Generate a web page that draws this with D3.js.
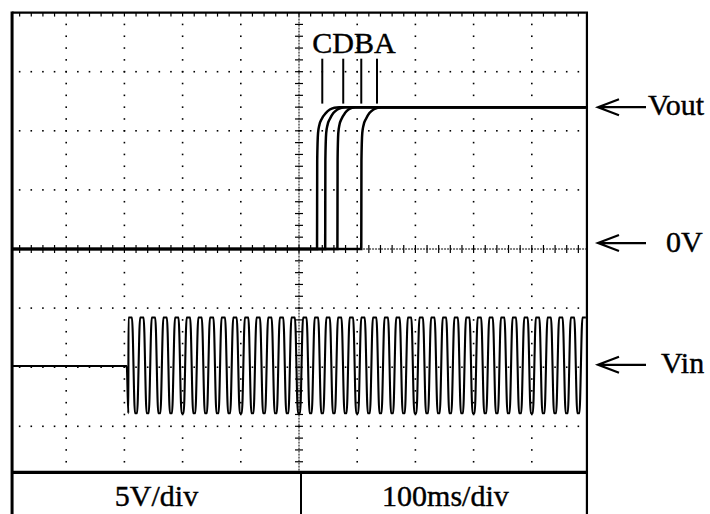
<!DOCTYPE html>
<html>
<head>
<meta charset="utf-8">
<script src="https://cdn.jsdelivr.net/npm/d3@7"></script>
<style>
  body { margin: 0; background: #fff; }
  svg { display: block; }
  text { font-family: "Liberation Serif", "Times New Roman", serif; fill: #000; stroke: #000; stroke-width: 0.4; }
</style>
</head>
<body>
<script>
// Vout traces, [time ms, volts] (5V/div, 100ms/div)
const voutC = [[7,0],[531,0],[531.3,7.5],[532.7,9.8],[535,10.5],[539,11.0],[546,11.5],[553,11.8],[561,11.95],[569,12],[993,12]];
const voutD = [[7,0],[545,0],[545.3,7.5],[546.7,9.8],[549,10.5],[553,11.0],[559,11.5],[566,11.8],[573,11.95],[580,12],[993,12]];
const voutB = [[7,0],[566,0],[566.3,7.5],[567.5,9.8],[569.5,10.5],[573,11.0],[579,11.5],[585,11.8],[591,11.95],[597,12],[993,12]];
const voutA = [[7,0],[607,0],[607.3,7.5],[608.7,9.8],[611,10.5],[615,11.0],[621,11.5],[628,11.8],[635,11.95],[642,12],[993,12]];
const traceLetters = "CDBA";
const markerTimes = [540, 576, 607, 634];

// Vin (display volts), extrema of the mains waveform
const vinRest = -9.9, vinHigh = -5.8, vinLow = -13.9;
const vinStart = 204;
const vinTopHoldMs = 3, vinBottomHoldMs = 1.8;   // flat caps seen on the trace
const vinPeakTimes = [210,230,250,270,290,310,330,350,370,390,410,430,450,470,490,510,530,550,570,590,
                      610,630,650,670,690,710,730,750,770,790,810,830,850,870,890,910,930,950,970,990];
const vinTroughTimes = [205,220,240,260,280,300,320,340,360,380,400,420,440,460,480,500,520,540,560,580,
                        600,620,640,660,680,700,720,740,760,780,800,820,840,860,880,900,920,940,960,980];

const levelLabels = ["Vout", "0V", "Vin"];
const levelVolts = [12, 0.5, -9.8];
const scaleLabels = ["5V/div", "100ms/div"];

const W = 710, H = 514;
const svg = d3.select("body").append("svg").attr("width", W).attr("height", H);

const x = d3.scaleLinear().domain([0, 1000]).range([8, 590]);
const y = d3.scaleLinear().domain([20, -20]).range([12.6, 485.4]);

const t0 = 7, t1 = 993, vTop = 20, vBot = -18.9;

svg.append("clipPath").attr("id", "screen")
  .append("rect")
  .attr("x", x(t0)).attr("y", y(vTop))
  .attr("width", x(t1) - x(t0)).attr("height", y(vBot) - y(vTop));

// graticule dots
const grid = svg.append("g");
const majorT = d3.range(100, 1000, 100).filter(d => d !== 500);
const majorV = [15, 10, 5, -5, -10, -15];
const minorT = d3.range(20, 993, 20);
const minorV = d3.range(-18, 20, 1);

majorT.forEach(t => {
  grid.selectAll(null).data(minorV).enter().append("rect")
    .attr("x", x(t) - 0.8).attr("y", d => y(d) - 0.8)
    .attr("width", 1.6).attr("height", 1.6).attr("fill", "#000");
});
majorV.forEach(v => {
  grid.selectAll(null).data(minorT).enter().append("rect")
    .attr("x", d => x(d) - 0.8).attr("y", y(v) - 0.8)
    .attr("width", 1.6).attr("height", 1.6).attr("fill", "#000");
});

// center axes with ticks
grid.append("line")
  .attr("x1", x(500)).attr("x2", x(500)).attr("y1", y(vTop)).attr("y2", y(vBot))
  .attr("stroke", "#000").attr("stroke-width", 1).attr("stroke-dasharray", "2,1");
grid.append("line")
  .attr("x1", x(t0)).attr("x2", x(t1)).attr("y1", y(0)).attr("y2", y(0))
  .attr("stroke", "#000").attr("stroke-width", 1).attr("stroke-dasharray", "2,1");
grid.selectAll(null).data(minorV).enter().append("line")
  .attr("x1", x(500) - 4).attr("x2", x(500) + 4)
  .attr("y1", d => y(d)).attr("y2", d => y(d))
  .attr("stroke", "#000").attr("stroke-width", 1.2);
grid.selectAll(null).data(minorT).enter().append("line")
  .attr("x1", d => x(d)).attr("x2", d => x(d))
  .attr("y1", y(0) - 4).attr("y2", y(0) + 4)
  .attr("stroke", "#000").attr("stroke-width", 1.2);
// top edge ticks
grid.selectAll(null).data(minorT).enter().append("line")
  .attr("x1", d => x(d)).attr("x2", d => x(d))
  .attr("y1", y(vTop)).attr("y2", y(vTop) + 4)
  .attr("stroke", "#000").attr("stroke-width", 1.2);

// traces
const plot = svg.append("g").attr("clip-path", "url(#screen)");
const line = d3.line().x(d => x(d[0])).y(d => y(d[1])).curve(d3.curveMonotoneX);

[voutC, voutD, voutB, voutA].forEach(tr => {
  plot.append("path").attr("d", line(tr))
    .attr("fill", "none").attr("stroke", "#000").attr("stroke-width", 2.5);
});

const vinExtrema = vinPeakTimes.flatMap(t => [[t - vinTopHoldMs, vinHigh], [t + vinTopHoldMs, vinHigh]])
  .concat(vinTroughTimes.flatMap(t => [[t - vinBottomHoldMs, vinLow], [t + vinBottomHoldMs, vinLow]]))
  .sort((a, b) => a[0] - b[0]);
const vinPts = [[t0, vinRest], [vinStart, vinRest]].concat(vinExtrema.slice(1));
plot.append("path").attr("d", line(vinPts))
  .attr("fill", "none").attr("stroke", "#000").attr("stroke-width", 2.1);

// screen frame
const frame = svg.append("g").attr("fill", "none").attr("stroke", "#000");
frame.append("line").attr("x1", x(t0)).attr("x2", x(t1)).attr("y1", y(vTop)).attr("y2", y(vTop)).attr("stroke-width", 2.2);
frame.append("line").attr("x1", x(t0)).attr("x2", x(t0)).attr("y1", y(vTop) - 1).attr("y2", H).attr("stroke-width", 3);
frame.append("line").attr("x1", x(t1) + 1).attr("x2", x(t1) + 1).attr("y1", y(vTop) - 1).attr("y2", H).attr("stroke-width", 2.2);
frame.append("line").attr("x1", x(t0)).attr("x2", x(t1) + 2).attr("y1", y(vBot)).attr("y2", y(vBot)).attr("stroke-width", 3.2);
frame.append("line").attr("x1", 301).attr("x2", 301).attr("y1", y(vBot)).attr("y2", H).attr("stroke-width", 2);

// scale labels in the bottom box
svg.append("text").attr("x", (x(t0) + 301) / 2).attr("y", 506)
  .attr("text-anchor", "middle").attr("font-size", 30).text(scaleLabels[0]);
svg.append("text").attr("x", (301 + x(t1)) / 2 + 2).attr("y", 506)
  .attr("text-anchor", "middle").attr("font-size", 30).text(scaleLabels[1]);

// trace markers and letters
svg.selectAll(null).data(markerTimes).enter().append("line")
  .attr("x1", d => x(d)).attr("x2", d => x(d))
  .attr("y1", y(16.1)).attr("y2", y(12.3))
  .attr("stroke", "#000").attr("stroke-width", 2);
svg.append("text").attr("x", x(markerTimes[0]) - 10).attr("y", 53)
  .attr("font-size", 30).text(traceLetters);

// level arrows on the right
const arrows = svg.append("g");
levelLabels.forEach((lab, i) => {
  const yy = y(levelVolts[i]);
  const tip = 598, tail = 646;
  arrows.append("path")
    .attr("d", `M${tail},${yy}L${tip},${yy}M${tip + 21},${yy - 8}L${tip},${yy}L${tip + 21},${yy + 8}`)
    .attr("fill", "none").attr("stroke", "#000").attr("stroke-width", 2.2);
  const tx = lab === "Vout" ? 648 : (lab === "0V" ? 666 : 661);
  arrows.append("text").attr("x", tx).attr("y", yy + (lab === "0V" ? 9 : 8))
    .attr("font-size", 30).text(lab);
});
</script>
</body>
</html>
